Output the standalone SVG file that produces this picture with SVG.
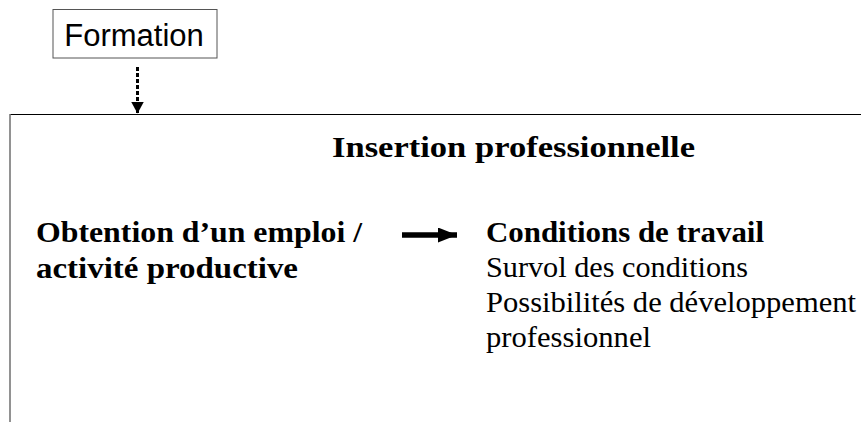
<svg xmlns="http://www.w3.org/2000/svg" width="861" height="422" viewBox="0 0 861 422">
<style>
.serif{font-family:"Liberation Serif","Times New Roman",serif;font-size:30px;fill:#000}
.b{font-weight:bold}
</style>
<defs>
<marker id="ah" viewBox="0 0 12 13" refX="12" refY="6.5" markerWidth="12" markerHeight="13" orient="auto" markerUnits="userSpaceOnUse"><path d="M0,0 L12,6.5 L0,13 z" fill="#000"/></marker>
<marker id="ah2" viewBox="0 0 19 15" refX="19" refY="7.5" markerWidth="19" markerHeight="15" orient="auto" markerUnits="userSpaceOnUse"><path d="M0,0 L19,7.5 L0,15 z" fill="#000"/></marker>
</defs>
<rect width="861" height="422" fill="#fff"/>
<g id="formation">
<rect x="53" y="9.5" width="164" height="48.5" fill="#fff" stroke="#555" stroke-width="1"/>
<text x="134" y="46" text-anchor="middle" font-family="Liberation Sans,Arial,sans-serif" font-size="31">Formation</text>
</g>
<g id="insertion">
<path d="M10,114.5 H861" fill="none" stroke="#000" stroke-width="1.2"/>
<path d="M10,114 V422" fill="none" stroke="#777" stroke-width="1.6"/>
<text x="332" y="157" class="serif b" font-size="31" textLength="363" lengthAdjust="spacingAndGlyphs">Insertion professionnelle</text>
<text x="36" y="242" class="serif b" textLength="326" lengthAdjust="spacingAndGlyphs">Obtention d’un emploi /</text>
<text x="36" y="278" class="serif b" textLength="262" lengthAdjust="spacingAndGlyphs">activité productive</text>
<text x="486" y="242" class="serif b" textLength="278" lengthAdjust="spacingAndGlyphs">Conditions de travail</text>
<text x="486" y="277" class="serif" textLength="262" lengthAdjust="spacingAndGlyphs">Survol des conditions</text>
<text x="486" y="312" class="serif" textLength="370" lengthAdjust="spacingAndGlyphs">Possibilités de développement</text>
<text x="486" y="347" class="serif" textLength="165" lengthAdjust="spacingAndGlyphs">professionnel</text>
</g>
<g id="connectors">
<line x1="137.5" y1="67" x2="137.5" y2="113.5" stroke="#000" stroke-width="3" stroke-dasharray="4,2" marker-end="url(#ah)"/>
<line x1="402" y1="235" x2="457" y2="235" stroke="#000" stroke-width="5.5" marker-end="url(#ah2)"/>
</g>
</svg>
